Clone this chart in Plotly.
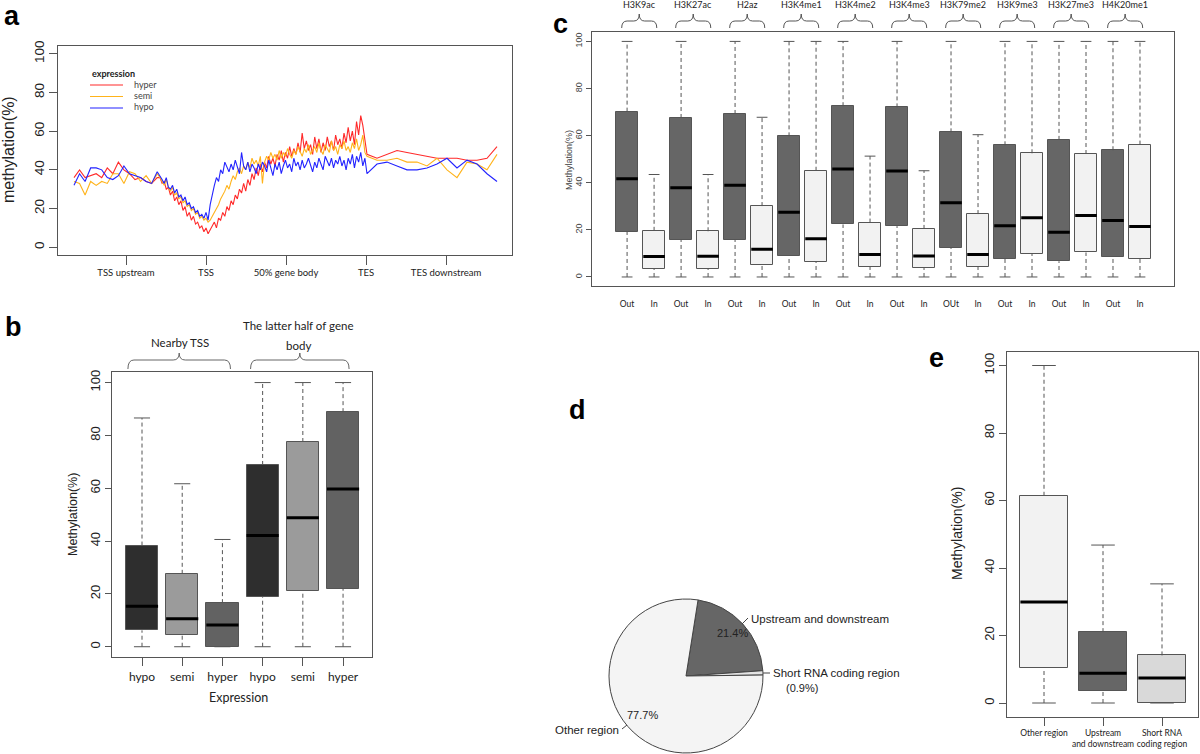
import numpy as np
import plotly.graph_objects as go

W, H = 1200, 754
ARIAL = "Liberation Sans, Arial, sans-serif"
CALI = "Lato, sans-serif"
INK = "#222222"
EDGE = "#555555"

# ---------------- a: methylation profile along the gene ----------------
profile_ticks = [1, 2, 3, 4, 5]
profile_labels = ["TSS upstream", "TSS", "50% gene body", "TES", "TES downstream"]

hyper_up = [36, 40, 36, 37, 38, 36, 41, 38, 44, 40, 38, 35, 36, 34, 33, 36]
semi_up = [34, 33, 27, 34, 32, 34, 33, 38, 38, 33, 39, 38, 34, 37, 33, 38]
hypo_up = [32, 38, 34, 41, 41, 40, 36, 35, 37, 42, 38, 37, 36, 34, 33, 39]

hyper_body = [36, 33, 34, 30, 31, 27, 29, 24, 26, 22,
              24, 19, 21, 16, 18, 14, 16, 12, 13, 10,
              11, 8, 10, 7, 9, 11, 13, 10, 15, 14,
              18, 16, 21, 19, 24, 22, 27, 25, 30, 28,
              33, 29, 35, 32, 38, 35, 41, 37, 43, 39,
              44, 41, 47, 43, 46, 42, 48, 45, 50, 44,
              49, 46, 52, 47, 51, 48, 54, 49, 59, 51,
              55, 50, 53, 48, 57, 51, 56, 49, 54, 50,
              57, 52, 55, 50, 58, 53, 56, 51, 59, 54,
              62, 55, 60, 53, 65, 58, 68, 63, 55, 48]
semi_body = [36, 34, 32, 35, 31, 29, 31, 27, 28, 25,
             26, 23, 24, 21, 22, 19, 20, 17, 18, 15,
             16, 14, 15, 13, 14, 16, 18, 20, 22, 25,
             27, 29, 32, 30, 34, 37, 35, 39, 41, 38,
             42, 40, 44, 41, 46, 43, 45, 42, 47, 33,
             44, 47, 45, 49, 46, 48, 45, 50, 46, 49,
             47, 51, 48, 46, 50, 48, 52, 49, 47, 51,
             49, 53, 48, 50, 52, 49, 54, 50, 48, 53,
             51, 49, 55, 50, 52, 48, 53, 51, 55, 50,
             52, 49, 54, 51, 56, 50, 53, 58, 49, 47]
hypo_body = [37, 35, 33, 36, 31, 30, 32, 28, 30, 26,
             27, 24, 26, 22, 23, 20, 21, 18, 19, 16,
             17, 15, 18, 14, 22, 28, 32, 36, 34, 40,
             38, 44, 41, 39, 43, 40, 45, 42, 38, 49,
             42, 40, 44, 39, 43, 41, 38, 43, 40, 44,
             42, 39, 45, 41, 37, 43, 40, 44, 38, 42,
             45, 41, 43, 39, 46, 42, 44, 40, 45, 41,
             43, 46, 42, 39, 44, 41, 46, 43, 40, 47,
             44, 42, 46, 41, 45, 43, 47, 42, 45, 40,
             46, 43, 48, 41, 47, 44, 49, 42, 46, 38]

hyper_down = [46, 48, 50, 49, 48, 47, 46, 46, 46, 45, 45, 46, 52]
semi_down = [45, 45, 46, 44, 44, 42, 46, 40, 36, 44, 43, 40, 48]
hypo_down = [43, 44, 42, 40, 40, 41, 43, 46, 41, 45, 43, 38, 34]

# bin positions on the metagene axis (ticks sit at 1..5)
bins = np.concatenate([np.linspace(0.35, 1.39, len(hyper_up)),
                       np.linspace(1.425, 4.0125, len(hyper_body)),
                       np.linspace(4.1375, 5.6375, len(hyper_down))])

# ---------------- b: nearby TSS vs latter half of gene body ----------------
b_labels = ["hypo", "semi", "hyper", "hypo", "semi", "hyper"]
b_q1 = [6.2, 4.6, 0.0, 18.8, 21.0, 22.0]
b_med = [15.3, 10.6, 8.2, 42.1, 48.8, 59.7]
b_q3 = [38.3, 27.6, 16.5, 68.8, 77.5, 88.8]
b_lo = [0, 0, 0, 0, 0, 0]
b_hi = [86.6, 61.7, 40.6, 100, 100, 100]
b_colors = ["#2e2e2e", "#9b9b9b", "#626262", "#2e2e2e", "#9b9b9b", "#626262"]
b_groups = ["Nearby TSS", "The latter half of gene<br>body"]

# ---------------- c: histone marks, out / in ----------------
c_marks = ["H3K9ac", "H3K27ac", "H2az", "H3K4me1", "H3K4me2",
           "H3K4me3", "H3K79me2", "H3K9me3", "H3K27me3", "H4K20me1"]
c_labels = ["Out", "In", "Out", "In", "Out", "In", "Out", "In", "Out", "In",
            "Out", "In", "OUt", "In", "Out", "In", "Out", "In", "Out", "In"]
c_q1 = [19.1, 3.5, 15.9, 3.5, 15.9, 5.2, 8.8, 6.4, 22.3, 4.3,
        21.6, 3.8, 12.3, 4.3, 7.7, 9.8, 6.7, 10.4, 8.5, 7.7]
c_med = [41.7, 8.7, 37.9, 8.8, 38.9, 11.8, 27.5, 16.2, 45.8, 9.5,
         45.0, 8.9, 31.5, 9.5, 21.7, 25.1, 19.0, 26.1, 24.0, 21.4]
c_q3 = [70.2, 19.6, 67.5, 19.4, 69.2, 30.1, 59.7, 45.1, 72.5, 23.1,
        72.0, 20.4, 61.4, 26.7, 55.9, 52.5, 58.2, 52.2, 53.8, 56.2]
c_lo = [0, 0, 0, 0, 0, 0, 0, 0, 0, 0, 0, 0, 0, 0, 0, 0, 0, 0, 0, 0]
c_hi = [100, 43.5, 100, 43.5, 100, 67.8, 100, 100, 100, 51.3,
        100, 45.1, 100, 60.4, 100, 100, 100, 100, 100, 100]
c_colors = ["#666666", "#f2f2f2"] * 10

# ---------------- d: region share ----------------
d_labels = ["Upstream and downstream", "Short RNA coding region", "Other region"]
d_share = [21.4, 0.9, 77.7]
d_colors = ["#666666", "#e4e4e4", "#f4f4f4"]

# ---------------- e: methylation by region ----------------
e_labels = ["Other region", "Upstream<br>and downstream", "Short RNA<br>coding region"]
e_q1 = [10.4, 3.6, 0.0]
e_med = [29.9, 8.8, 7.4]
e_q3 = [61.4, 21.0, 14.1]
e_lo = [0, 0, 0]
e_hi = [100, 46.8, 35.3]
e_colors = ["#f2f2f2", "#666666", "#d9d9d9"]


def px(x):
    return x / W


def py(y):
    return 1 - y / H


def add_boxes(fig, q1, med, q3, lo, hi, colors, xa, ya, width=0.8):
    pos = list(range(1, len(q1) + 1))
    fig.add_trace(go.Bar(x=pos, y=[b - a for a, b in zip(q1, q3)], base=q1, width=width,
                         marker=dict(color=colors, line=dict(color=EDGE, width=1)),
                         xaxis=xa, yaxis=ya, showlegend=False, hoverinfo="skip"))
    wx, wy, cx, cy, mx, my = [], [], [], [], [], []
    for p, a, m, b, l, h in zip(pos, q1, med, q3, lo, hi):
        wx += [p, p, None, p, p, None]
        wy += [b, h, None, l, a, None]
        cx += [p - width / 4, p + width / 4, None, p - width / 4, p + width / 4, None]
        cy += [h, h, None, l, l, None]
        mx += [p - width / 2, p + width / 2, None]
        my += [m, m, None]
    fig.add_trace(go.Scatter(x=wx, y=wy, mode="lines", line=dict(color=EDGE, width=1, dash="4px,3px"),
                             xaxis=xa, yaxis=ya, showlegend=False, hoverinfo="skip"))
    fig.add_trace(go.Scatter(x=cx, y=cy, mode="lines", line=dict(color=EDGE, width=1),
                             xaxis=xa, yaxis=ya, showlegend=False, hoverinfo="skip"))
    fig.add_trace(go.Scatter(x=mx, y=my, mode="lines", line=dict(color="black", width=3),
                             xaxis=xa, yaxis=ya, showlegend=False, hoverinfo="skip"))


def brace_path(x0, x1, y_end, y_top, y_tip, r):
    xm = (x0 + x1) / 2
    return (f"M{x0},{y_end} Q{x0},{y_top} {x0 + r},{y_top} L{xm - r},{y_top} "
            f"Q{xm},{y_top} {xm},{y_tip} Q{xm},{y_top} {xm + r},{y_top} "
            f"L{x1 - r},{y_top} Q{x1},{y_top} {x1},{y_end}")


fig = go.Figure()

# a: profile lines
for name, parts, color in [("hyper", (hyper_up, hyper_body, hyper_down), "#ff2a2a"),
                           ("semi", (semi_up, semi_body, semi_down), "#ffb31a"),
                           ("hypo", (hypo_up, hypo_body, hypo_down), "#2323ff")]:
    fig.add_trace(go.Scatter(x=bins, y=np.concatenate(parts), mode="lines", name=name,
                             line=dict(color=color, width=1.1), xaxis="x", yaxis="y",
                             showlegend=False, hoverinfo="skip"))

add_boxes(fig, b_q1, b_med, b_q3, b_lo, b_hi, b_colors, "x2", "y2")
add_boxes(fig, c_q1, c_med, c_q3, c_lo, c_hi, c_colors, "x3", "y3")
add_boxes(fig, e_q1, e_med, e_q3, e_lo, e_hi, e_colors, "x4", "y4")

fig.add_trace(go.Pie(labels=d_labels, values=d_share, sort=False, direction="clockwise",
                     rotation=9, textinfo="none", hoverinfo="skip", showlegend=False,
                     marker=dict(colors=d_colors, line=dict(color="#444444", width=1)),
                     domain=dict(x=[px(609), px(763)], y=[py(753), py(599)])))

frame = dict(showline=True, mirror=True, linecolor=EDGE, linewidth=1, showgrid=False,
             zeroline=False, ticks="outside", tickcolor=EDGE, automargin=False)
ynum = [0, 20, 40, 60, 80, 100]

layout_axes = dict(
    xaxis=dict(frame, domain=[px(58), px(512)], anchor="y", range=[0.15, 5.825],
               tickvals=profile_ticks, ticktext=profile_labels, ticklen=9, tickangle=0,
               tickfont=dict(family=CALI, size=9.5, color=INK)),
    yaxis=dict(frame, domain=[py(255), py(46)], anchor="x", range=[-4, 104],
               tickvals=ynum, tickangle=-90, ticklen=8,
               tickfont=dict(family=ARIAL, size=13.5, color=INK)),
    xaxis2=dict(frame, domain=[px(112), px(372)], anchor="y2", range=[0.254, 6.72],
                tickvals=[1, 2, 3, 4, 5, 6], ticktext=b_labels, ticklen=8, tickangle=0,
                tickfont=dict(family=CALI, size=12, color=INK)),
    yaxis2=dict(frame, domain=[py(657.3), py(372)], anchor="x2", range=[-4, 104],
                tickvals=ynum, tickangle=-90, ticklen=6,
                tickfont=dict(family=ARIAL, size=13, color=INK)),
    xaxis3=dict(frame, domain=[px(592), px(1174)], anchor="y3", range=[-0.3, 21.26],
                tickvals=list(range(1, 21)), ticktext=c_labels, ticklen=9, tickangle=0,
                tickcolor="rgba(0,0,0,0)", tickfont=dict(family=CALI, size=8.5, color=INK)),
    yaxis3=dict(frame, domain=[py(286.4), py(32)], anchor="x3", range=[-4, 104],
                tickvals=ynum, tickangle=-90, ticklen=5,
                tickfont=dict(family=ARIAL, size=9, color="#444444")),
    xaxis4=dict(frame, domain=[px(1007), px(1198)], anchor="y4", range=[0.373, 3.61],
                tickvals=[1, 2, 3], ticktext=e_labels, ticklen=8, tickangle=0,
                tickfont=dict(family=CALI, size=8.5, color=INK)),
    yaxis4=dict(frame, domain=[py(716.5), py(352)], anchor="x4", range=[-4, 104],
                tickvals=ynum, tickangle=-90, ticklen=7,
                tickfont=dict(family=ARIAL, size=13, color=INK)),
)

ann = []


def text(x, y, s, size, family=ARIAL, xanchor="center", angle=0, color=INK, bold=False):
    ann.append(dict(x=px(x), y=py(y), xref="paper", yref="paper", text=f"<b>{s}</b>" if bold else s,
                    showarrow=False, xanchor=xanchor, yanchor="middle", textangle=angle,
                    font=dict(family=family, size=size, color=color)))


# panel letters
for letter, x, y in [("a", 12, 16), ("b", 13, 327), ("c", 560, 24), ("d", 577, 410), ("e", 936, 358)]:
    text(x, y, letter, 27, bold=True, color="black")

# axis titles
text(9, 150, "methylation(%)", 16, angle=-90)
text(73, 515, "Methylation(%)", 12.5, angle=-90)
text(238, 697, "Expression", 12.5, family=CALI)
text(569, 160, "Methylation(%)", 9, angle=-90, color="#444444")
text(957, 534, "Methylation(%)", 14, angle=-90)

# a legend
text(90, 73, "expression", 9, family=CALI, xanchor="left", bold=True)
shapes = []
for i, (name, color) in enumerate([("hyper", "#ff2a2a"), ("semi", "#ffb31a"), ("hypo", "#2323ff")]):
    yy = 85 + i * 11.5
    shapes.append(dict(type="line", xref="paper", yref="paper", x0=px(90), x1=px(123),
                       y0=py(yy), y1=py(yy), line=dict(color=color, width=1.2)))
    text(132, yy - 1, name, 9, family=CALI, xanchor="left", color="#444444")

# b group braces
b_spans = [(0.65, 3.2), (3.7, 6.15)]
for (x0, x1), label in zip(b_spans, b_groups):
    shapes.append(dict(type="path", xref="x2", yref="paper",
                       path=brace_path(x0, x1, py(369), py(360), py(353), 0.15),
                       line=dict(color="#666666", width=1)))
text(180, 343, b_groups[0], 11.5, family=CALI)
text(298, 325, "The latter half of gene", 11.5, family=CALI)
text(298, 345, "body", 11.5, family=CALI)

# c mark braces
for k, mark in enumerate(c_marks):
    p1 = 2 * k + 1
    x0, x1 = p1 - 0.2, p1 + 1.1
    shapes.append(dict(type="path", xref="x3", yref="paper",
                       path=brace_path(x0, x1, py(28), py(21), py(14), 0.2),
                       line=dict(color="#555555", width=1)))
    ann.append(dict(x=(x0 + x1) / 2, y=py(5), xref="x3", yref="paper", text=mark,
                    showarrow=False, xanchor="center", yanchor="middle",
                    font=dict(family=CALI, size=9, color=INK)))

# d pie labels
text(749, 619, d_labels[0], 11.5, xanchor="left")
text(732, 633, f"{d_share[0]}%", 11)
text(771, 673, d_labels[1], 11.5, xanchor="left")
text(802, 688, f"({d_share[1]}%)", 11)
text(642, 715, f"{d_share[2]}%", 11)
text(621, 730, d_labels[2], 11.5, xanchor="right")
for x0, y0, x1, y1 in [(742, 624, 748, 618), (763, 673, 770, 673), (622, 729, 627, 725)]:
    shapes.append(dict(type="line", xref="paper", yref="paper", x0=px(x0), y0=py(y0),
                       x1=px(x1), y1=py(y1), line=dict(color="#444444", width=1)))

fig.update_layout(
    width=W, height=H, margin=dict(l=0, r=0, t=0, b=0),
    paper_bgcolor="white", plot_bgcolor="white",
    annotations=ann, shapes=shapes, bargap=0,
    **layout_axes,
)

# drop the browser's default body margin so the figure sits at the page origin
fig.write_html("out.html", config={"displayModeBar": False},
               post_script="document.body.style.margin='0';")
